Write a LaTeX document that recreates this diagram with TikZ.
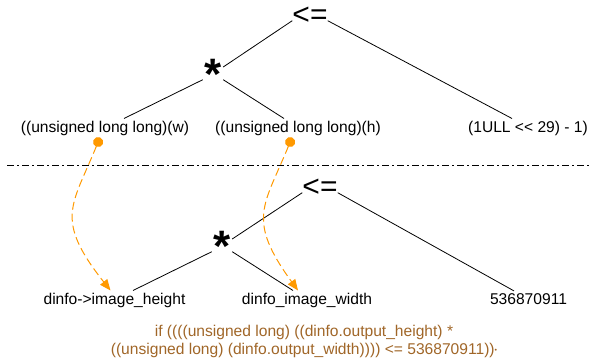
\documentclass[tikz,border=0pt]{standalone}
\usepackage{fontspec}
\setmainfont{Liberation Sans}
\usepackage{xcolor}
\usetikzlibrary{arrows.meta,positioning}
\definecolor{flowOrange}{RGB}{255,153,0}
\definecolor{codeBrown}{RGB}{160,102,40}

\begin{document}
\begin{tikzpicture}[x=1pt, y=-1pt,
  leop/.style={inner sep=0pt, minimum width=34pt, minimum height=13pt, font=\fontsize{30}{30}\selectfont},
  mulop/.style={inner sep=0pt, minimum width=20pt, minimum height=31pt, font=\fontsize{44}{44}\selectfont\bfseries},
  term/.style={anchor=base, inner sep=2pt, font=\fontsize{15.6}{18}\selectfont},
  branch/.style={line width=0.8pt},
  flow/.style={flowOrange, line width=1pt, dash pattern=on 8pt off 4pt,
    {Circle[length=10pt]}-{Triangle[length=11pt,width=9pt]}}
]
\useasboundingbox (0,0) rectangle (589,364);

% original expression
\node[leop] (le) at (310,14) {\smash{\raisebox{-0.34em}{<=}}};
\node[mulop] (mul) at (213,64) {\smash{\raisebox{-0.58em}{*}}};
\node[term] (w) at (105,132) {((unsigned long long)(w)};
\node[term] (h) at (298,132) {((unsigned long long)(h)};
\node[term] (ull) at (528,132) {(1ULL <\kern0pt< 29) - 1)};

\draw[branch] (le.south west) -- ([yshift=-3pt]mul.east);
\draw[branch] (le.south east) -- ([xshift=-16pt]ull.north);
\draw[branch] (mul.south west) -- ([xshift=19pt]w.north);
\draw[branch] (mul.south east) -- ([xshift=-14pt]h.north);

\draw[line width=0.8pt, dash pattern=on 7pt off 3pt on 2pt off 3pt] (7,165) -- (589,165);

% rewritten expression
\node[leop] (le2) at (320,186) {\smash{\raisebox{-0.34em}{<=}}};
\node[mulop] (mul2) at (222,236) {\smash{\raisebox{-0.58em}{*}}};
\node[term] (hgt) at (114.5,304) {dinfo->image\_height};
\node[term] (wid) at (307,304) {dinfo\_image\_width};
\node[term] (num) at (528.5,304) {536870911};

\draw[branch] (le2.south west) -- ([yshift=-3pt]mul2.east);
\draw[branch] (le2.south east) -- ([xshift=-14.5pt]num.north);
\draw[branch] (mul2.south west) -- ([xshift=18.5pt]hgt.north);
\draw[branch] (mul2.south east) -- ([xshift=-14pt]wid.north);

\draw[flow] ([xshift=-5pt]w.south) .. controls (72,206) and (54,219) .. ([xshift=-4pt]hgt.north);
\draw[flow] ([xshift=-6pt]h.south) .. controls (264,206) and (246,219) .. ([xshift=-9pt]wid.north);

\node[font=\fontsize{15.6}{18}\selectfont, text=codeBrown, align=center] (code) at (304,341)
  {if ((((unsigned long) ((dinfo.output\_height) *\\((unsigned long) (dinfo.output\_width)))) <= 536870911))\raisebox{2pt}{\fontsize{7}{7}\selectfont •}};
\end{tikzpicture}
\end{document}
